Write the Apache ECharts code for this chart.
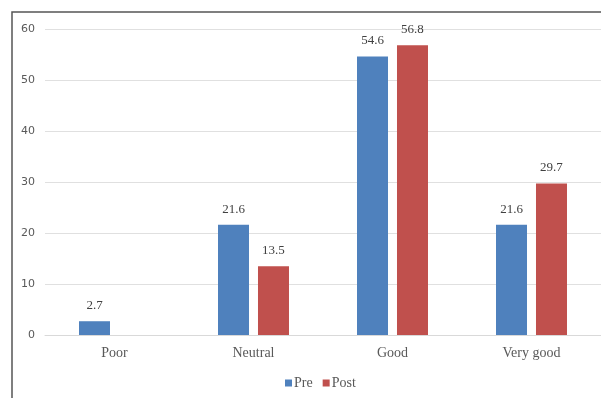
<!DOCTYPE html>
<html><head><meta charset="utf-8">
<script src="https://cdn.jsdelivr.net/npm/echarts@6/dist/echarts.min.js"></script>
<style>html,body{margin:0;padding:0;background:#fff}#c{width:601px;height:398px}</style>
</head><body><div id="c"></div>
<script>
const categories = ['Poor', 'Neutral', 'Good', 'Very good'];
const preValues = [2.7, 21.6, 54.6, 21.6];
const postValues = [null, 13.5, 56.8, 29.7];
const seriesNames = ['Pre', 'Post'];
const yTicks = {min: 0, max: 60, interval: 10};

const serif = '"Liberation Serif", "DejaVu Serif", serif';
const chart = echarts.init(document.getElementById('c'), null, {renderer: 'canvas'});
const labelCfg = {show: true, position: 'top', distance: 9, color: '#404040', fontFamily: serif, fontSize: 13};
chart.setOption({
  animation: false,
  graphic: [{type: 'rect', x: 12, y: 12, shape: {x: 0, y: 0, width: 640, height: 420},
    style: {fill: 'none', stroke: '#555555', lineWidth: 1.5}, silent: true}],
  grid: {left: 45, right: 0, top: 29, bottom: 63, containLabel: false},
  legend: {bottom: 3, left: 280, itemWidth: 7, itemHeight: 7, itemGap: 10,
    icon: 'rect', textStyle: {color: '#595959', fontFamily: serif, fontSize: 14, padding: [0, 0, 0, -3]},
    data: seriesNames},
  xAxis: {type: 'category', data: categories,
    axisLine: {lineStyle: {color: '#d9d9d9'}}, axisTick: {show: false},
    axisLabel: {color: '#595959', fontFamily: serif, fontSize: 14, margin: 11}},
  yAxis: {type: 'value', min: yTicks.min, max: yTicks.max, interval: yTicks.interval,
    axisLine: {show: false}, axisTick: {show: false},
    axisLabel: {color: '#595959', fontFamily: '"DejaVu Sans", sans-serif', fontSize: 11, margin: 10},
    splitLine: {lineStyle: {color: '#e0e0e0'}}},
  series: [
    {name: seriesNames[0], type: 'bar', data: preValues, barWidth: 31, barGap: '29%',
      itemStyle: {color: '#4F81BD'}, label: labelCfg},
    {name: seriesNames[1], type: 'bar', data: postValues, barWidth: 31, barGap: '29%',
      itemStyle: {color: '#C0504D'}, label: labelCfg}
  ]
});
</script></body></html>
